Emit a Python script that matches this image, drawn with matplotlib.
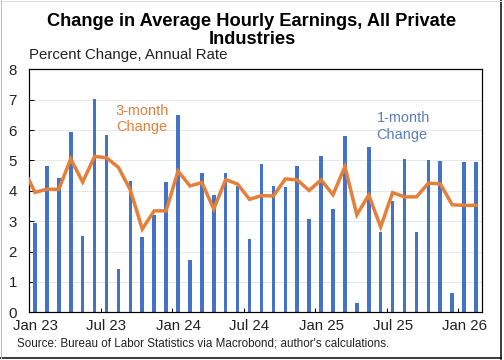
import numpy as np
import matplotlib.pyplot as plt
from matplotlib.lines import Line2D

plt.rcParams['font.family'] = ['Liberation Sans', 'DejaVu Sans']

# month labels (Jan 23 .. Feb 26)
months = ['Jan 23', 'Feb 23', 'Mar 23', 'Apr 23', 'May 23', 'Jun 23', 'Jul 23', 'Aug 23', 'Sep 23', 'Oct 23', 'Nov 23', 'Dec 23',
          'Jan 24', 'Feb 24', 'Mar 24', 'Apr 24', 'May 24', 'Jun 24', 'Jul 24', 'Aug 24', 'Sep 24', 'Oct 24', 'Nov 24', 'Dec 24',
          'Jan 25', 'Feb 25', 'Mar 25', 'Apr 25', 'May 25', 'Jun 25', 'Jul 25', 'Aug 25', 'Sep 25', 'Oct 25', 'Nov 25', 'Dec 25',
          'Jan 26', 'Feb 26']

# 1-month change, annual rate
one_month = [2.94, 4.82, 4.42, 5.93, 2.52, 7.02, 5.84, 1.42, 4.32, 2.48, 3.20, 4.28,
             6.48, 1.72, 4.59, 3.86, 4.57, 4.16, 2.41, 4.88, 4.16, 4.14, 4.83, 3.06,
             5.15, 3.39, 5.81, 0.30, 5.43, 2.66, 3.68, 5.05, 2.63, 5.02, 4.99, 0.63,
             4.96, 4.94]

# 3-month change, annual rate (first value is Dec 22)
three_month = [4.75,
               3.95, 4.05, 4.05, 5.05, 4.29, 5.13, 5.09, 4.77, 4.03, 2.74, 3.34, 3.34,
               4.65, 4.16, 4.27, 3.40, 4.37, 4.22, 3.72, 3.84, 3.83, 4.39, 4.36, 4.01,
               4.36, 3.87, 4.80, 3.21, 3.86, 2.81, 3.94, 3.80, 3.80, 4.25, 4.23, 3.54,
               3.52, 3.52]

yticks = [0, 1, 2, 3, 4, 5, 6, 7, 8]

blue = '#4472C4'
orange = '#E5803A'

fig = plt.figure(figsize=(7, 5), dpi=72)
ax = fig.add_axes([29/504, 1 - 312.3/360, 453/504, (312.3 - 69.3)/360])

x = np.arange(len(months))
ax.bar(x, one_month, width=0.3, color=blue, zorder=2)
ax.plot(np.arange(-1, len(months)), three_month, color=orange, lw=3.5, zorder=3,
        solid_joinstyle='miter')

ax.set_xlim(-0.5, len(months) - 0.5)
ax.set_ylim(0, 8)
ax.set_yticks(yticks)
ax.yaxis.grid(True, color='#E3E3E3', lw=0.8, zorder=0)
ax.set_axisbelow(True)

# ticks at half-year boundaries, labels centred on Jan/Jul
ax.set_xticks(np.arange(5.5, len(months), 6))
ax.set_xticklabels([])
ax.set_xticks(np.arange(0, len(months), 6), minor=True)
ax.set_xticklabels([months[i] for i in range(0, len(months), 6)], minor=True)
ax.tick_params(axis='x', which='major', direction='in', length=4, width=1)
ax.tick_params(axis='x', which='minor', length=0, pad=7, labelsize=15, labelcolor='#222222')
ax.tick_params(axis='y', direction='in', length=5, width=1, pad=12, labelsize=15, labelcolor='#222222')

for s in ax.spines.values():
    s.set_linewidth(1.2)
    s.set_color('black')

ax.text(9.0, 6.36, '3-month\nChange', color=orange, fontsize=14.5, ha='center',
        va='center', linespacing=1.2)
ax.text(28.65, 6.12, '1-month\nChange', color='#5B7DB8', fontsize=14.5, ha='left',
        va='center', linespacing=1.2)

fig.text(0.5, 1 - 30.5/360, 'Change in Average Hourly Earnings, All Private\nIndustries',
         ha='center', va='center', fontsize=18.3, fontweight='bold', linespacing=1.12)
fig.text(29/504, 1 - 55/360, 'Percent Change, Annual Rate', ha='left', va='center',
         fontsize=15, color='#222222')
fig.text(17/504, 1 - 343/360, "Source: Bureau of Labor Statistics via Macrobond; author's calculations.",
         ha='left', va='center', fontsize=11.6, color='#222222')

# figure frame
fig.add_artist(Line2D([501/504, 501/504], [1/360, 1], color='black', lw=1.5))
fig.add_artist(Line2D([0, 501/504], [2/360, 2/360], color='black', lw=1.5))
fig.add_artist(Line2D([0.5/504, 0.5/504], [2/360, 1], color='#BBBBBB', lw=1))
fig.add_artist(Line2D([0, 501/504], [359.5/360, 359.5/360], color='#DDDDDD', lw=1))

fig.savefig('out.png', dpi=72)
